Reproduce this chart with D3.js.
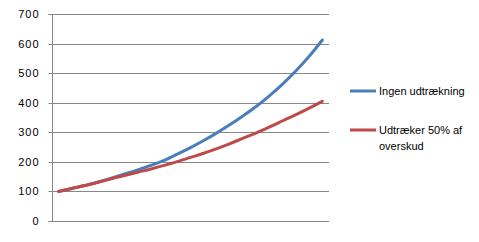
<!DOCTYPE html>
<html>
<head>
<meta charset="utf-8">
<script src="https://cdn.jsdelivr.net/npm/d3@7"></script>
<style>
  html, body { margin: 0; padding: 0; background: #fff; }
  svg { display: block; }
  text { font-family: "Liberation Sans", Arial, sans-serif; fill: #000; }
</style>
</head>
<body>
<svg id="chart" width="479" height="242"></svg>
<script>
// ---- data ----
const years = d3.range(0, 21);
const seriesNames = ["Ingen udtrækning", "Udtræker 50% af overskud"];
const ingenUdtraekning = [100, 110, 120, 132, 145, 159, 173, 188, 205, 226, 248, 272, 298, 326, 356, 388, 424, 464, 508, 557, 612];
const udtraeker50 = [100, 110, 120, 131, 143, 154, 165, 176, 188, 201, 215, 229, 245, 262, 280, 298, 318, 339, 360, 382, 405];
const yTicks = [0, 100, 200, 300, 400, 500, 600, 700];
const colors = ["#4A7EBB", "#BE4B48"];

// ---- layout ----
const svg = d3.select("#chart");
const plot = { left: 52, right: 329, top: 14, bottom: 221 };

const x = d3.scalePoint().domain(years).range([plot.left, plot.right]).padding(0.5);
const y = d3.scaleLinear().domain([0, 700]).range([plot.bottom, plot.top]);

// gridlines
svg.append("g")
  .selectAll("line")
  .data(yTicks)
  .join("line")
  .attr("x1", plot.left).attr("x2", plot.right)
  .attr("y1", d => Math.round(y(d)) + 0.5).attr("y2", d => Math.round(y(d)) + 0.5)
  .attr("stroke", "#878787").attr("stroke-width", 1);

// y axis
const yAxis = d3.axisLeft(y).tickValues(yTicks).tickSize(4).tickPadding(9);
const yg = svg.append("g")
  .attr("transform", `translate(${plot.left + 0.5},0)`)
  .call(yAxis);
yg.select(".domain").attr("stroke", "#878787").attr("d", `M-4,${Math.round(y(700))+0.5}H0V${Math.round(y(0))+0.5}H-4`);
yg.selectAll(".tick line").attr("stroke", "#878787");
yg.selectAll(".tick").attr("transform", d => `translate(0,${Math.round(y(d)) + 0.5})`);
yg.selectAll(".tick text")
  .style("font-family", "'Liberation Sans', Arial, sans-serif")
  .style("font-size", "11px")
  .style("letter-spacing", "1px")
  .attr("fill", "#000");

// lines
const line = d3.line().x((d, i) => x(years[i])).y(d => y(d)).curve(d3.curveMonotoneX);
const allSeries = [ingenUdtraekning, udtraeker50];
svg.append("g")
  .selectAll("path")
  .data(allSeries)
  .join("path")
  .attr("d", d => line(d))
  .attr("fill", "none")
  .attr("stroke", (d, i) => colors[i])
  .attr("stroke-width", 3)
  .attr("stroke-linejoin", "round")
  .attr("stroke-linecap", "round");

// legend
const legend = svg.append("g");
const legendY = [91, 130];
legend.selectAll("line")
  .data(seriesNames)
  .join("line")
  .attr("x1", 350).attr("x2", 376)
  .attr("y1", (d, i) => legendY[i]).attr("y2", (d, i) => legendY[i])
  .attr("stroke", (d, i) => colors[i])
  .attr("stroke-width", 3);

legend.append("text")
  .attr("x", 379).attr("y", legendY[0] + 4)
  .style("font-size", "11px")
  .text(seriesNames[0]);

const t2 = legend.append("text")
  .attr("x", 379).attr("y", legendY[1] + 4)
  .style("font-size", "11px");
t2.append("tspan").attr("x", 379).text("Udtræker 50% af");
t2.append("tspan").attr("x", 379).attr("dy", 16).text("overskud");
</script>
</body>
</html>
